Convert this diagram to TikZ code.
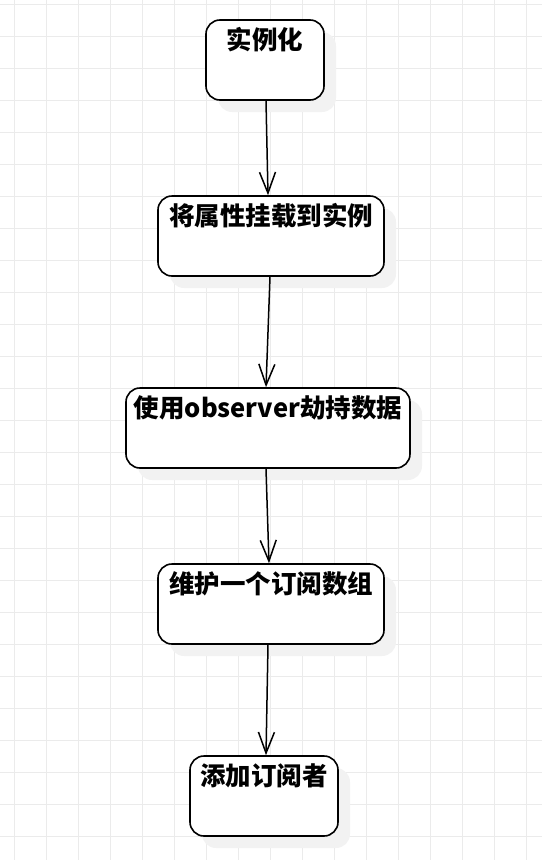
\documentclass[tikz,border=0pt]{standalone}
\usepackage{fontspec}
\newfontfamily\cjk{Noto Sans CJK SC}
\usetikzlibrary{arrows.meta,positioning,shadows}

\tikzset{
  stepbox/.style={draw,rectangle,rounded corners=14pt,line width=1.6pt,fill=white,
    inner xsep=3pt,inner ysep=0pt,text height=29pt,text depth=51pt,
    font=\cjk\bfseries\fontsize{25.5pt}{28pt}\selectfont,
    drop shadow={shadow xshift=12pt,shadow yshift=-12pt,fill=black!5,opacity=1}},
  flow/.style={-{Straight Barb[length=21pt,width=16pt,line width=1.5pt]},line width=1.5pt}
}

\begin{document}
\begin{tikzpicture}[x=1pt,y=1pt]
  \useasboundingbox (0,0) rectangle (542,-860);
  % grid
  \foreach \x in {14,46,...,542} \draw[black!8,line width=1pt] (\x,0) -- (\x,-860);
  \foreach \y in {4,36,...,860} \draw[black!8,line width=1pt] (0,-\y) -- (542,-\y);

  \node[stepbox,minimum width=118pt] (inst) at (265,-60) {实例化};
  \node[stepbox,minimum width=226pt,below=94.4pt of inst,xshift=6pt] (attach) {将属性挂载到实例};
  \node[stepbox,minimum width=284pt,below=110.4pt of attach,xshift=-3pt] (observe) {使用observer劫持数据};
  \node[stepbox,minimum width=226pt,below=94.4pt of observe,xshift=3pt] (subs) {维护一个订阅数组};
  \node[stepbox,minimum width=148pt,below=110.4pt of subs,xshift=-7pt] (addsub) {添加订阅者};

  \draw[flow] ([xshift=1pt]inst.south) -- ([xshift=-3pt]attach.north);
  \draw[flow] ([xshift=-1pt]attach.south) -- ([xshift=-2pt]observe.north);
  \draw[flow] ([xshift=-2pt]observe.south) -- ([xshift=-2pt]subs.north);
  \draw[flow] ([xshift=-3pt]subs.south) -- ([xshift=2pt]addsub.north);
\end{tikzpicture}
\end{document}
